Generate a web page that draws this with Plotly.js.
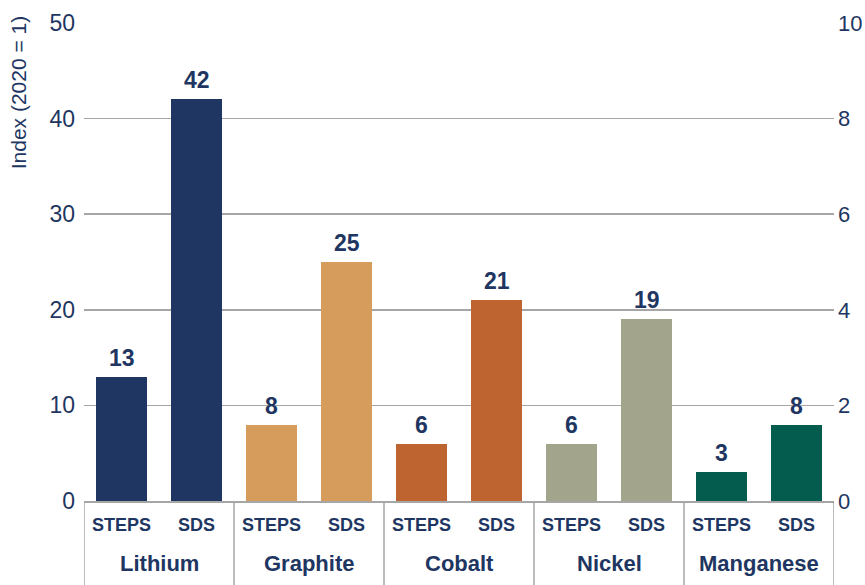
<!DOCTYPE html>
<html>
<head>
<meta charset="utf-8">
<script src="https://cdn.plot.ly/plotly-3.0.1.min.js"></script>
<style>
  html, body { margin: 0; padding: 0; background: #ffffff; }
  #chart { width: 865px; height: 585px; }
</style>
</head>
<body>
<div id="chart"></div>
<script>
// Minerals and scenarios
const minerals = ['Lithium', 'Graphite', 'Cobalt', 'Nickel', 'Manganese'];
const scenarios = ['STEPS', 'SDS'];

// Demand index in 2040 (2020 = 1), per mineral: [STEPS, SDS]
const stepsValues = [13, 8, 6, 6, 3];
const sdsValues = [42, 25, 21, 19, 8];

// Axis ticks
const leftTicks = [0, 10, 20, 30, 40, 50];
const rightTicks = [0, 2, 4, 6, 8, 10];

const mineralColors = ['#1e3661', '#d69c5c', '#bd6430', '#a3a48c', '#035c4d'];

const navy = '#1e3661';
const gridGray = '#a6a6a6';
const font = 'Liberation Sans, Arial, Helvetica, sans-serif';

// Flatten into ten bar positions: mineral i -> positions 2i (STEPS), 2i+1 (SDS)
const xPos = [], yVals = [], barColors = [], tickText = [];
minerals.forEach((m, i) => {
  xPos.push(2 * i, 2 * i + 1);
  yVals.push(stepsValues[i], sdsValues[i]);
  barColors.push(mineralColors[i], mineralColors[i]);
  tickText.push(scenarios[0], scenarios[1]);
});

const bars = {
  type: 'bar',
  x: xPos,
  y: yVals,
  width: 0.667,
  marker: { color: barColors },
  hoverinfo: 'x+y'
};

// Carrier for the right-hand axis so it gets drawn
const rightAxisCarrier = {
  type: 'scatter',
  mode: 'markers',
  x: [xPos[0]],
  y: [rightTicks[0]],
  yaxis: 'y2',
  marker: { opacity: 0 },
  hoverinfo: 'skip'
};

// Value labels above each bar
const annotations = xPos.map((x, k) => ({
  text: '<b>' + yVals[k] + '</b>',
  x: x, xref: 'x',
  y: yVals[k], yref: 'y',
  showarrow: false,
  yanchor: 'bottom', xanchor: 'center',
  yshift: 4,
  font: { family: font, size: 23, color: navy }
}));

// Group labels under the scenario labels
minerals.forEach((m, i) => annotations.push({
  text: '<b>' + m + '</b>',
  x: 2 * i + 0.5, xref: 'x',
  y: -0.13, yref: 'paper',
  showarrow: false,
  font: { family: font, size: 22, color: navy },
  xanchor: 'center', yanchor: 'middle'
}));

annotations.push({
  text: 'Index (2020 = 1)',
  x: -0.088, xref: 'paper',
  y: 0.855, yref: 'paper',
  textangle: -90,
  showarrow: false,
  font: { family: font, size: 21, color: navy },
  xanchor: 'center', yanchor: 'middle'
});

// Vertical separators between mineral groups
const shapes = [];
for (let k = 0; k <= minerals.length; k++) {
  shapes.push({
    type: 'line', xref: 'x', yref: 'paper',
    x0: 2 * k - 0.5, x1: 2 * k - 0.5,
    y0: 0, y1: -0.2,
    line: { color: gridGray, width: 1.5 }
  });
}

const layout = {
  width: 865, height: 585,
  margin: { l: 84, r: 31, t: 23, b: 84 },
  paper_bgcolor: '#ffffff',
  plot_bgcolor: '#ffffff',
  showlegend: false,
  bargap: 0,
  xaxis: {
    range: [-0.5, 9.5],
    tickmode: 'array',
    tickvals: xPos,
    ticktext: tickText,
    ticks: '',
    tickfont: { family: font, size: 18, color: navy, weight: 'bold' },
    ticklabelstandoff: 7,
    showgrid: false,
    zeroline: false,
    showline: true,
    linecolor: gridGray,
    linewidth: 1.5,
    fixedrange: true
  },
  yaxis: {
    range: [0, 50],
    tickvals: leftTicks,
    ticks: '',
    tickfont: { family: font, size: 23, color: navy },
    showgrid: true,
    gridcolor: gridGray,
    gridwidth: 1.5,
    zeroline: false,
    showline: false,
    ticklabelstandoff: 8,
    fixedrange: true
  },
  yaxis2: {
    overlaying: 'y',
    side: 'right',
    anchor: 'x',
    range: [0, 10],
    tickvals: rightTicks,
    ticks: '',
    tickfont: { family: font, size: 22, color: navy },
    showgrid: false,
    zeroline: false,
    showline: false,
    ticklabelstandoff: 3,
    fixedrange: true
  },
  annotations: annotations,
  shapes: shapes
};

Plotly.newPlot('chart', [bars, rightAxisCarrier], layout, { displayModeBar: false, staticPlot: true });
</script>
</body>
</html>
